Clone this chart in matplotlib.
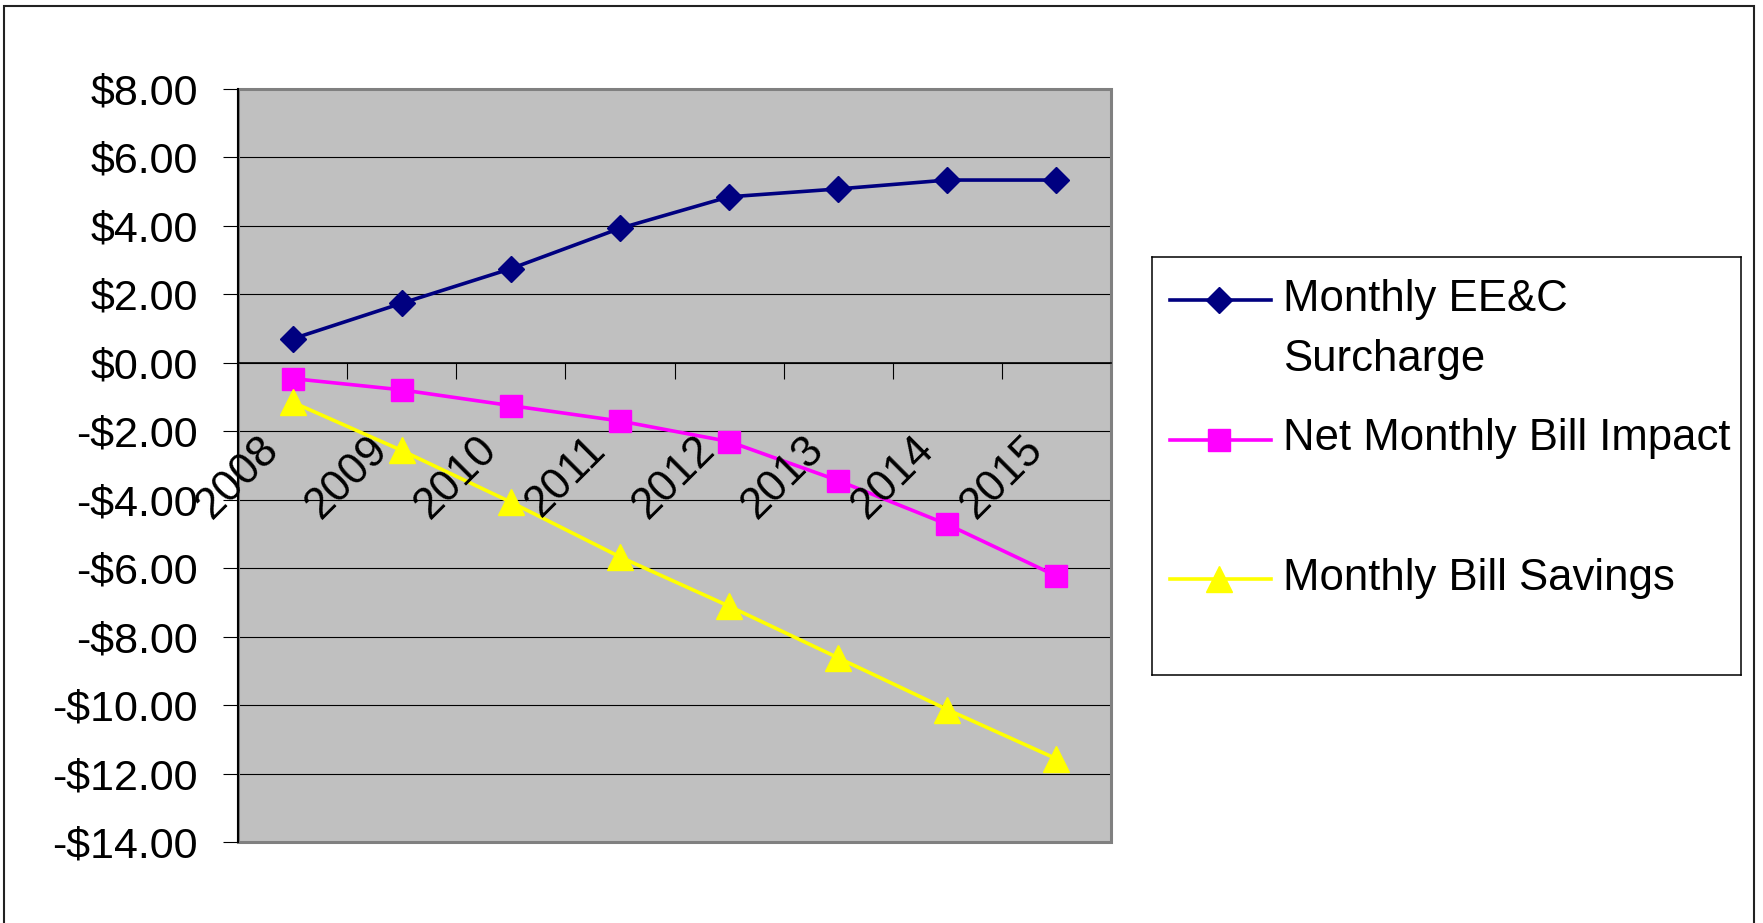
import matplotlib
matplotlib.use("Agg")
import matplotlib.pyplot as plt
import matplotlib.transforms as mtransforms
from matplotlib.patches import Rectangle
from matplotlib.ticker import FuncFormatter

# data
years = ["2008", "2009", "2010", "2011", "2012", "2013", "2014", "2015"]
surcharge = [0.70, 1.74, 2.75, 3.93, 4.85, 5.08, 5.34, 5.34]
net_impact = [-0.46, -0.79, -1.25, -1.70, -2.30, -3.44, -4.72, -6.23]
savings = [-1.15, -2.56, -4.07, -5.67, -7.11, -8.62, -10.13, -11.57]
series_labels = ["Monthly EE&C\nSurcharge", "Net Monthly Bill Impact", "Monthly Bill Savings"]
y_ticks = list(range(-14, 9, 2))

plt.rcParams['font.family'] = ['Liberation Sans', 'DejaVu Sans']

W, H = 1763, 923
fig = plt.figure(figsize=(W / 100, H / 100), dpi=100)
fig.patch.set_facecolor('white')

# plot area (pixel layout of the original Excel chart)
ax = fig.add_axes([238 / W, 1 - 842 / H, (1111 - 238) / W, (842 - 89) / H])
ax.set_facecolor('#c0c0c0')

styles = [
    dict(color='#000080', marker='D', ms=13),
    dict(color='#ff00ff', marker='s', ms=15.5),
    dict(color='#ffff00', marker='^', ms=18.5),
]
x = list(range(len(years)))
for vals, st in zip([surcharge, net_impact, savings], styles):
    ax.plot(x, vals, color=st['color'], lw=2.6, marker=st['marker'], ms=st['ms'],
            mec=st['color'], mfc=st['color'], zorder=3)

ax.set_xlim(-0.5, len(years) - 0.5)
ax.set_ylim(-14, 8)
ax.set_yticks(y_ticks)
ax.yaxis.set_major_formatter(FuncFormatter(lambda v, p: f"-${abs(v):.2f}" if v < 0 else f"${v:.2f}"))
ax.tick_params(axis='y', length=10.8, width=0.8, pad=18, labelsize=31, direction='out', colors='black')
ax.grid(axis='y', color='black', lw=0.8)
ax.set_axisbelow(True)

# category axis crosses at zero, ticks between categories
ax.spines['bottom'].set_position(('data', 0))
ax.spines['bottom'].set_color('black')
ax.spines['bottom'].set_linewidth(1.2)
ax.set_xticks([i - 0.5 for i in range(len(years) + 1)])
ax.set_xticklabels([])
ax.tick_params(axis='x', length=11.5, width=0.8, direction='out')

ax.spines['top'].set_visible(False)
ax.spines['right'].set_visible(False)
ax.add_patch(Rectangle((0, 0), 1, 1, transform=ax.transAxes, fill=False,
                       ec='#808080', lw=2.2, clip_on=False, zorder=2.4))
ax.spines['left'].set_color('black')
ax.spines['left'].set_linewidth(1.5)

# rotated year labels
offset = mtransforms.ScaledTranslation(-25 / 72, -47.5 / 72, fig.dpi_scale_trans)
for i, yr in enumerate(years):
    ax.text(i, 0, yr, transform=ax.transData + offset, rotation=45,
            rotation_mode='anchor', ha='right', va='top', fontsize=31.5)

# legend box
lax = fig.add_axes([1152 / W, 1 - 675 / H, (1741 - 1152) / W, (675 - 257) / H])
lax.set_xlim(1152, 1741)
lax.set_ylim(675, 257)
lax.set_xticks([])
lax.set_yticks([])
for sp in lax.spines.values():
    sp.set_color('black')
    sp.set_linewidth(1.1)

handle_y = [300, 440, 579]
text_base = [311, 450, 590]
for st, hy, ty, lab in zip(styles, handle_y, text_base, series_labels):
    lax.plot([1170, 1219, 1271], [hy, hy, hy], color=st['color'], lw=2.6,
             marker=st['marker'], ms=st['ms'], markevery=[1],
             mec=st['color'], mfc=st['color'])
    for k, line in enumerate(lab.split("\n")):
        lax.text(1283, ty + 60 * k, line, fontsize=31.5, va='baseline', ha='left')

# outer chart border
fig.add_artist(Rectangle((4 / W, -0.05), (1754 - 4) / W, 1.05 - 5.5 / H,
                         transform=fig.transFigure, fill=False, ec='#222222', lw=1.5))

fig.savefig('out.png', dpi=100)
